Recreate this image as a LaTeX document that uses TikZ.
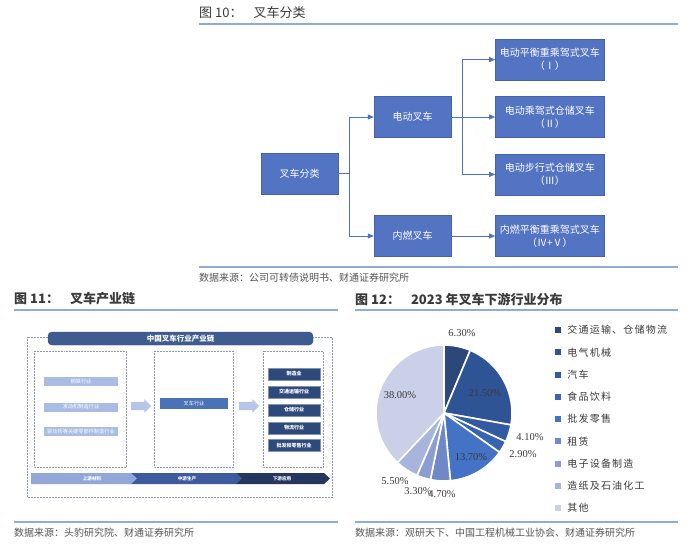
\documentclass[tikz,border=0pt]{standalone}
\usepackage{fontspec}
\setmainfont{Noto Sans CJK SC}
\newfontfamily\numfont{Liberation Serif}
\newfontfamily\legfont[LetterSpace=12]{Noto Sans CJK SC}
\usepackage{xcolor}
\usetikzlibrary{arrows.meta,positioning,shapes.arrows}
\definecolor{boxblue}{HTML}{5373C3}
\definecolor{lineblue}{HTML}{4C73C6}
\definecolor{ruleblue}{HTML}{8EABDA}
\definecolor{txtgray}{HTML}{3A3A3A}
\definecolor{capgray}{HTML}{555555}
\definecolor{bandblue}{HTML}{3F5C90}
\definecolor{upblue}{HTML}{A9BCE3}
\definecolor{midblue}{HTML}{4A72B6}
\definecolor{lowblue}{HTML}{2E4A7B}
\definecolor{chev1}{HTML}{92A7D8}
\definecolor{chev2}{HTML}{3E5B9E}
\definecolor{chev3}{HTML}{26375F}
\definecolor{arrblue}{HTML}{B7C6E6}
\definecolor{dotgray}{HTML}{8F96A3}
\definecolor{pc1}{HTML}{2C4878}
\definecolor{pc2}{HTML}{2F5496}
\definecolor{pc3}{HTML}{335AA3}
\definecolor{pc4}{HTML}{3862B2}
\definecolor{pc5}{HTML}{4472C4}
\definecolor{pc6}{HTML}{6F88C8}
\definecolor{pc7}{HTML}{8B9ED2}
\definecolor{pc8}{HTML}{A7B5DD}
\definecolor{pc9}{HTML}{C9D0E8}
\tikzset{
  tbox/.style={fill=boxblue, draw=boxblue!85!black, line width=0.4pt, text=white, align=center, font=\fontsize{10}{13}\selectfont, inner sep=0pt, minimum width=77pt, minimum height=41pt},
  wbox/.style={tbox, minimum width=109pt},
  tarr/.style={-{Triangle[length=6pt,width=5pt]}, draw=lineblue, line width=0.8pt},
  rulel/.style={draw=ruleblue, line width=1.4pt},
  ftitle/.style={anchor=west, text=txtgray, font=\fontsize{13}{15}\selectfont\bfseries, inner sep=0pt},
  fcap/.style={anchor=west, text=capgray, font=\fontsize{10}{12}\selectfont, inner sep=0pt},
  dbox/.style={draw=dotgray, densely dotted, line width=0.5pt},
  ubar/.style={fill=upblue, text=white, font=\fontsize{5.2}{6}\selectfont, inner sep=0pt, minimum width=74pt, minimum height=9pt},
  mbar/.style={fill=midblue, text=white, font=\fontsize{5.2}{6}\selectfont, inner sep=0pt, minimum width=68pt, minimum height=11pt},
  lbar/.style={fill=lowblue, draw=lowblue!60!white, line width=0.4pt, text=white, font=\fontsize{5}{6}\selectfont\bfseries, inner sep=0pt, minimum width=52pt, minimum height=12pt},
  barr/.style={single arrow, fill=arrblue, inner xsep=0pt, inner ysep=4pt, minimum height=20pt, single arrow head extend=2.5pt},
  clab/.style={text=white, font=\fontsize{4.6}{5}\selectfont\bfseries, inner sep=0pt},
  plab/.style={text=txtgray, font=\numfont\fontsize{10.5}{12}\selectfont, inner sep=0pt},
  lsq/.style={minimum size=6pt, inner sep=0pt},
  ltxt/.style={anchor=west, text=txtgray, font=\legfont\fontsize{10}{12}\selectfont, inner sep=0pt}
}

\begin{document}
\begin{tikzpicture}[x=1pt,y=-1pt]
\useasboundingbox[fill=white] (0,0) rectangle (700,546);

\node[ftitle, font=\fontsize{13}{15}\selectfont] (h1) at (199,13) {图 10：\hspace{11pt}叉车分类};
\draw[rulel] (199,24) -- (678,24);
\node[tbox] (t0) at (299.5,173.5) {叉车分类};
\node[tbox] (t1) at (412.5,117) {电动叉车};
\node[tbox] (t2) at (412.5,236) {内燃叉车};
\node[wbox, right=44pt of t1] (t4) {电动乘驾式仓储叉车\\（Ⅱ）};
\node[wbox, above=16pt of t4] (t3) {电动平衡重乘驾式叉车\\（Ⅰ）};
\node[wbox, below=16pt of t4] (t5) {电动步行式仓储叉车\\（Ⅲ）};
\node[wbox, right=44pt of t2] (t6) {内燃平衡重乘驾式叉车\\（Ⅳ+Ⅴ）};
\draw[tarr] (t0.east) -- ++(11,0) |- (t1);
\draw[tarr] (t0.east) -- ++(11,0) |- (t2);
\draw[tarr] (t1.east) -- ++(11,0) |- (t3);
\draw[tarr] (t1) -- (t4);
\draw[tarr] (t1.east) -- ++(11,0) |- (t5);
\draw[tarr] (t2) -- (t6);
\draw[rulel] (199,267) -- (678,267);
\node[fcap] (s1) at (199,278) {数据来源：公司可转债说明书、财通证券研究所};

\node[ftitle] (h2) at (14,299) {图 11：\hspace{11pt}叉车产业链};
\draw[rulel] (14,310) -- (338,310);
\draw[dbox] (27,337) rectangle (332,497);
\node[fill=bandblue, draw=bandblue!80!black, rounded corners=4pt, minimum width=265pt, minimum height=13pt, inner sep=0pt, text=white, font=\fontsize{7.5}{9}\selectfont\bfseries] (c0) at (180.5,338.5) {中国叉车行业产业链};
\draw[dbox] (34,351) rectangle (126,467);
\draw[dbox] (154,351) rectangle (233,467);
\draw[dbox] (263,351) rectangle (323,467);
\node[ubar] (u1) at (81,381.5) {钢铁行业};
\node[ubar] (u2) at (81,407) {发动机制造行业};
\node[ubar] (u3) at (81,431.5) {驱动桥等关键零部件制造行业};
\node[barr] (a1) at (139,406) {};
\node[mbar] (m1) at (194,403.5) {叉车行业};
\node[barr] (a2) at (247,406) {};
\node[lbar] (d1) at (294,374) {制造业};
\node[lbar, below=5.5pt of d1] (d2) {交通运输行业};
\node[lbar, below=5.5pt of d2] (d3) {仓储行业};
\node[lbar, below=5.5pt of d3] (d4) {物流行业};
\node[lbar, below=5.5pt of d4] (d5) {批发和零售行业};
\fill[chev3] (236,473) -- (324,473) -- (330,478.5) -- (324,484) -- (236,484) -- cycle;
\fill[chev2] (131,473) -- (236,473) -- (242,478.5) -- (236,484) -- (131,484) -- cycle;
\fill[chev1] (31,473) -- (131,473) -- (137,478.5) -- (131,484) -- (31,484) -- cycle;
\node[clab] (k1) at (92,478.5) {上游材料};
\node[clab] (k2) at (187,478.5) {中游生产};
\node[clab] (k3) at (282,478.5) {下游应用};
\draw[rulel] (14,522) -- (338,522);
\node[fcap] (s2) at (14,533) {数据来源：头豹研究院、财通证券研究所};

\node[ftitle] (h3) at (355,299) {图 12：\hspace{11pt}2023 年叉车下游行业分布};
\draw[rulel] (355,310) -- (678,310);
\begin{scope}[shift={(444,413)}, yscale=-1]
\foreach \a/\b/\c in {90/67.32/pc1, 67.32/-10.08/pc2, -10.08/-24.84/pc3, -24.84/-35.28/pc4, -35.28/-84.6/pc5, -84.6/-101.52/pc6, -101.52/-113.4/pc7, -113.4/-133.2/pc8, -133.2/-270/pc9}
  \filldraw[fill=\c, draw=white, line width=1.6pt, line join=round] (0,0) -- (\a:68) arc[start angle=\a, end angle=\b, radius=68] -- cycle;
\end{scope}
\node[plab] (p1) at (462,333) {6.30\%};
\node[plab] (p2) at (485,393) {21.50\%};
\node[plab] (p3) at (530,437) {4.10\%};
\node[plab] (p4) at (523,454) {2.90\%};
\node[plab] (p5) at (471,457) {13.70\%};
\node[plab] (p6) at (442,494) {4.70\%};
\node[plab] (p7) at (418,491) {3.30\%};
\node[plab] (p8) at (395,481) {5.50\%};
\node[plab] (p9) at (400,395) {38.00\%};
\foreach \i/\c/\t in {1/pc1/交通运输、仓储物流, 2/pc2/电气机械, 3/pc3/汽车, 4/pc4/食品饮料, 5/pc5/批发零售, 6/pc6/租赁, 7/pc7/电子设备制造, 8/pc8/造纸及石油化工, 9/pc9/其他} {
  \node[lsq, fill=\c] (q\i) at (558,{330+22.25*(\i-1)}) {};
  \node[ltxt, right=6pt of q\i] (l\i) {\t};
}
\draw[rulel] (355,522) -- (678,522);
\node[fcap] (s3) at (355,533) {数据来源：观研天下、中国工程机械工业协会、财通证券研究所};
\end{tikzpicture}
\end{document}
